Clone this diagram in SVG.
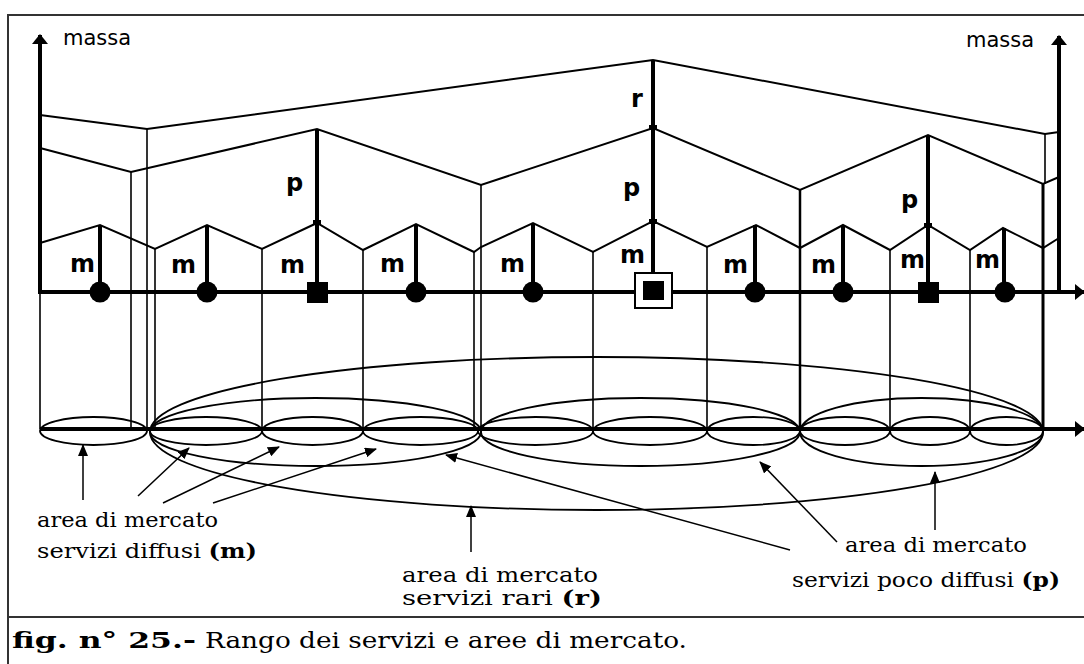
<svg xmlns="http://www.w3.org/2000/svg" width="1084" height="664" viewBox="0 0 1084 664">
<style>
.thin{stroke:#000;stroke-width:1.6;fill:none}
.zig{stroke:#000;stroke-width:2;fill:none;stroke-linejoin:miter}
.thick{stroke:#000;stroke-width:4;fill:none}
.stem{stroke:#000;stroke-width:4;fill:none}
.ell{stroke:#000;stroke-width:1.8;fill:none}
.ann{stroke:#000;stroke-width:1.5;fill:none}
.lbl{font-family:"DejaVu Sans",sans-serif;font-weight:bold;font-size:24px;fill:#000}
.mas{font-family:"DejaVu Sans",sans-serif;font-size:21px;fill:#000}
.txt{font-family:"DejaVu Serif","Liberation Serif",serif;font-size:20px;fill:#000}
.cap{font-family:"DejaVu Serif","Liberation Serif",serif;font-size:22px;fill:#000}
.frame{stroke:#333;stroke-width:2;fill:none}
</style>
<defs>
<marker id="ah" markerWidth="12" markerHeight="10" refX="11" refY="5" orient="auto" markerUnits="userSpaceOnUse">
<path d="M0,0 L12,5 L0,10 Z" fill="#000"/>
</marker>
<marker id="axh" markerWidth="10" markerHeight="16" refX="9" refY="8" orient="auto" markerUnits="userSpaceOnUse">
<path d="M0,0 L10,8 L0,16 Z" fill="#000"/>
</marker>
</defs>
<rect width="1084" height="664" fill="#fff"/>
<g id="frame">
<path class="frame" d="M8,664 V15 H1084"/>
<line class="frame" x1="8" y1="617" x2="1084" y2="617"/>
</g>
<g id="axes">
<line class="thick" x1="40" y1="292" x2="40" y2="35" marker-end="url(#axh)"/>
<line class="thick" x1="1059" y1="292" x2="1059" y2="36" marker-end="url(#axh)"/>
<line class="thick" x1="38" y1="292" x2="1084" y2="292" marker-end="url(#axh)"/>
<line class="thick" x1="40" y1="429" x2="1084" y2="429" marker-end="url(#axh)"/>
<line class="thin" x1="40" y1="292" x2="40" y2="429"/>
<text class="mas" x="63" y="45">massa</text>
<text class="mas" x="966" y="47">massa</text>
</g>
<g id="levels">
<polyline class="zig" points="40,115 147,129 653,60 1045,134 1059,132"/>
<polyline class="zig" points="40,148 131,172 317,129 481,185 653,128 800,190 928,135 1043,184 1059,177"/>
<polyline class="zig" points="40,243 100,225 155,249 207,225 262,249 317,223 363,250 416,224 474,252 481,247 533,223 593,252 653,221 707,247 756,225 800,248 843,225 890,250 928,225 970,250 1003,228 1043,248 1059,238"/>
</g>
<g id="boundaries">
<line class="thin" x1="131" y1="172" x2="131" y2="429"/>
<line class="thin" x1="147" y1="129" x2="147" y2="429"/>
<line class="thin" x1="155" y1="249" x2="155" y2="429"/>
<line class="thin" x1="262" y1="249" x2="262" y2="429"/>
<line class="thin" x1="363" y1="250" x2="363" y2="429"/>
<line class="thin" x1="474" y1="252" x2="474" y2="429"/>
<line class="thin" x1="481" y1="185" x2="481" y2="429"/>
<line class="thin" x1="593" y1="252" x2="593" y2="429"/>
<line class="thin" x1="707" y1="247" x2="707" y2="429"/>
<line style="stroke:#000;stroke-width:2.5" x1="800" y1="190" x2="800" y2="429"/>
<line class="thin" x1="890" y1="250" x2="890" y2="429"/>
<line class="thin" x1="970" y1="250" x2="970" y2="429"/>
<line class="thin" x1="1045" y1="134" x2="1045" y2="184"/>
<line style="stroke:#000;stroke-width:3" x1="1043" y1="184" x2="1043" y2="429"/>
</g>
<g id="stems">
<line class="stem" x1="100" y1="225" x2="100" y2="292"/>
<line class="stem" x1="207" y1="225" x2="207" y2="292"/>
<line class="stem" x1="317" y1="129" x2="317" y2="292"/>
<line class="stem" x1="416" y1="224" x2="416" y2="292"/>
<line class="stem" x1="533" y1="223" x2="533" y2="292"/>
<line class="stem" x1="653" y1="60" x2="653" y2="292"/>
<line class="stem" x1="755" y1="225" x2="755" y2="292"/>
<line class="stem" x1="843" y1="225" x2="843" y2="292"/>
<line class="stem" x1="928" y1="135" x2="928" y2="292"/>
<line class="stem" x1="1004" y1="228" x2="1004" y2="292"/>
<rect x="313" y="220" width="8" height="5" fill="#000"/>
<rect x="649" y="125" width="8" height="5" fill="#000"/>
<rect x="649" y="219" width="8" height="5" fill="#000"/>
<rect x="924" y="223" width="8" height="5" fill="#000"/>
</g>
<g id="centres">
<circle cx="100" cy="292" r="10.5" fill="#000"/>
<circle cx="207" cy="292" r="10.5" fill="#000"/>
<rect x="307" y="282" width="21" height="21" fill="#000"/>
<circle cx="416" cy="292" r="10.5" fill="#000"/>
<circle cx="533" cy="292" r="10.5" fill="#000"/>
<rect x="635" y="273" width="37" height="35" fill="#fff" stroke="#000" stroke-width="2"/>
<rect x="643" y="281" width="21" height="19" fill="#000"/>
<circle cx="755" cy="292" r="10.5" fill="#000"/>
<circle cx="843" cy="292" r="10.5" fill="#000"/>
<rect x="918" y="282" width="21" height="21" fill="#000"/>
<circle cx="1005" cy="292" r="10.5" fill="#000"/>
</g>
<g id="rank-labels">
<text class="lbl" x="70" y="272">m</text>
<text class="lbl" x="171" y="273">m</text>
<text class="lbl" x="280" y="273">m</text>
<text class="lbl" x="380" y="272">m</text>
<text class="lbl" x="500" y="272">m</text>
<text class="lbl" x="620" y="263">m</text>
<text class="lbl" x="723" y="273">m</text>
<text class="lbl" x="811" y="273">m</text>
<text class="lbl" x="900" y="268">m</text>
<text class="lbl" x="975" y="268">m</text>
<text class="lbl" x="286" y="191">p</text>
<text class="lbl" x="623" y="196">p</text>
<text class="lbl" x="901" y="208">p</text>
<text class="lbl" x="631" y="107">r</text>
</g>
<g id="areas">
<ellipse class="ell" cx="93.5" cy="431" rx="53.5" ry="14"/>
<ellipse class="ell" cx="206" cy="431" rx="56" ry="14"/>
<ellipse class="ell" cx="312.5" cy="431" rx="50.5" ry="14"/>
<ellipse class="ell" cx="420.5" cy="431" rx="57.5" ry="14"/>
<ellipse class="ell" cx="535.5" cy="431" rx="57.5" ry="14"/>
<ellipse class="ell" cx="650" cy="431" rx="57" ry="14"/>
<ellipse class="ell" cx="753.5" cy="431" rx="46.5" ry="14"/>
<ellipse class="ell" cx="845" cy="431" rx="45" ry="14"/>
<ellipse class="ell" cx="930" cy="431" rx="40" ry="14"/>
<ellipse class="ell" cx="1006.5" cy="431" rx="36.5" ry="14"/>
<ellipse class="ell" cx="315.5" cy="432" rx="165.5" ry="34"/>
<ellipse class="ell" cx="640.5" cy="432" rx="159.5" ry="34"/>
<ellipse class="ell" cx="921.5" cy="432" rx="121.5" ry="34"/>
<path class="ell" d="M150,432 A446.5,75 0 0 1 1043,432 A446.5,78 0 0 1 150,432 Z"/>
</g>
<g id="connectors">
<line class="ann" x1="83" y1="500" x2="83" y2="445" marker-end="url(#ah)"/>
<line class="ann" x1="138" y1="496" x2="189" y2="448" marker-end="url(#ah)"/>
<line class="ann" x1="163" y1="503" x2="279" y2="447" marker-end="url(#ah)"/>
<line class="ann" x1="213" y1="503" x2="376" y2="449" marker-end="url(#ah)"/>
<line class="ann" x1="471" y1="552" x2="471" y2="506" marker-end="url(#ah)"/>
<line class="ann" x1="790" y1="550" x2="446" y2="455" marker-end="url(#ah)"/>
<line class="ann" x1="837" y1="542" x2="760" y2="462" marker-end="url(#ah)"/>
<line class="ann" x1="935" y1="530" x2="935" y2="472" marker-end="url(#ah)"/>
</g>
<g id="area-labels">
<text class="txt" x="37" y="527" textLength="181" lengthAdjust="spacingAndGlyphs">area di mercato</text>
<text class="txt" x="37" y="558" textLength="220" lengthAdjust="spacingAndGlyphs">servizi diffusi <tspan font-weight="bold">(m)</tspan></text>
<text class="txt" x="402" y="582" textLength="196" lengthAdjust="spacingAndGlyphs">area di mercato</text>
<text class="txt" x="402" y="605" textLength="200" lengthAdjust="spacingAndGlyphs">servizi rari  <tspan font-weight="bold">(r)</tspan></text>
<text class="txt" x="845" y="552" textLength="182" lengthAdjust="spacingAndGlyphs">area di mercato</text>
<text class="txt" x="792" y="587" textLength="268" lengthAdjust="spacingAndGlyphs">servizi poco diffusi  <tspan font-weight="bold">(p)</tspan></text>
</g>
<g id="caption">
<text class="cap" x="12" y="648" font-weight="bold" textLength="184" lengthAdjust="spacingAndGlyphs">fig. n° 25.-</text>
<text class="cap" x="205" y="648" textLength="482" lengthAdjust="spacingAndGlyphs">Rango dei servizi e aree di mercato.</text>
</g>
</svg>
